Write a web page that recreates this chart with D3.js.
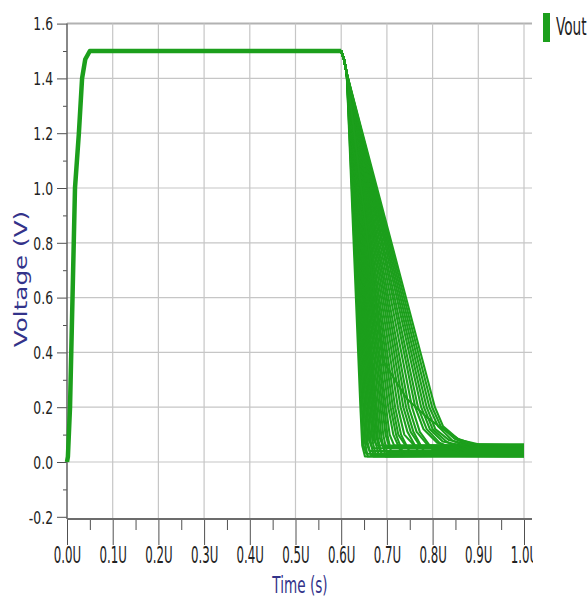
<!DOCTYPE html>
<html>
<meta charset="utf-8">

<head>
    <style>
    body {
        margin: 0;
        background: white;
    }

    .grid line {
        stroke: #c6c6c6;
        stroke-width: 1.2px;
    }

    .curve {
        fill: none;
        stroke: #1c9f1c;
        stroke-width: 2.1px;
        stroke-linejoin: round;
    }

    .head {
        fill: none;
        stroke: #1c9f1c;
        stroke-width: 4.5px;
        stroke-linejoin: round;
    }

    .tick line {
        stroke: #505050;
    }

    .tick text {
        font-family: "Liberation Sans Narrow", "DejaVu Sans Condensed", sans-serif;
        font-size: 16px;
        fill: #222;
    }

    .axis_title {
        font-family: "DejaVu Sans", sans-serif;
        font-size: 17px;
        fill: #33338a;
    }
    </style>
</head>

<body>
    <div id='viz'></div>

<script src="https://d3js.org/d3.v7.min.js"></script>
<script>
const width = 588;
const height = 600;

// ticks
const y_ticks = [-0.2, 0.0, 0.2, 0.4, 0.6, 0.8, 1.0, 1.2, 1.4, 1.6];
const y_minor = [-0.1, 0.1, 0.3, 0.5, 0.7, 0.9, 1.1, 1.3, 1.5];
const x_ticks = [0.0, 0.1, 0.2, 0.3, 0.4, 0.5, 0.6, 0.7, 0.8, 0.9, 1.0];
const x_minor = [0.05, 0.15, 0.25, 0.35, 0.45, 0.55, 0.65, 0.75, 0.85, 0.95];

// rise + plateau, shared by all runs (time in U, volts)
const head_t = [0.0, 0.002, 0.0066, 0.0175, 0.026, 0.033, 0.04, 0.05, 0.6];
const head_v = [0.0, 0.02, 0.2, 1.0, 1.2, 1.4, 1.47, 1.5, 1.5];

// start of the falling edge, shared
const knee = [[0.6, 1.5], [0.606, 1.47], [0.612, 1.42]];

// falling edge of each run
const runs = [
    [[0.642, 0.2], [0.646, 0.06], [0.652, 0.02], [1.0, 0.02]],
    [[0.645, 0.2], [0.649, 0.06], [0.655, 0.03], [1.0, 0.03]],
    [[0.648, 0.2], [0.652, 0.07], [0.658, 0.02], [1.0, 0.025]],
    [[0.651, 0.2], [0.655, 0.07], [0.662, 0.04], [1.0, 0.04]],
    [[0.654, 0.2], [0.658, 0.07], [0.665, 0.025], [1.0, 0.025]],
    [[0.657, 0.2], [0.661, 0.08], [0.668, 0.05], [1.0, 0.05]],
    [[0.660, 0.2], [0.664, 0.08], [0.671, 0.02], [1.0, 0.02]],
    [[0.663, 0.2], [0.668, 0.08], [0.675, 0.03], [1.0, 0.035]],
    [[0.666, 0.2], [0.671, 0.08], [0.678, 0.06], [1.0, 0.06]],
    [[0.669, 0.2], [0.674, 0.08], [0.682, 0.025], [1.0, 0.02]],
    [[0.672, 0.2], [0.677, 0.09], [0.685, 0.04], [1.0, 0.045]],
    [[0.675, 0.2], [0.680, 0.09], [0.688, 0.03], [1.0, 0.03]],
    [[0.678, 0.2], [0.684, 0.09], [0.692, 0.055], [1.0, 0.055]],
    [[0.682, 0.2], [0.688, 0.09], [0.697, 0.02], [1.0, 0.025]],
    [[0.686, 0.2], [0.692, 0.1], [0.700, 0.035], [1.0, 0.035]],
    [[0.690, 0.2], [0.697, 0.1], [0.706, 0.05], [1.0, 0.05]],
    [[0.694, 0.2], [0.701, 0.1], [0.710, 0.03], [1.0, 0.03]],
    [[0.698, 0.2], [0.706, 0.1], [0.716, 0.06], [1.0, 0.06]],
    [[0.703, 0.2], [0.714, 0.1], [0.730, 0.04], [1.0, 0.04]],
    [[0.708, 0.2], [0.720, 0.1], [0.737, 0.025], [1.0, 0.025]],
    [[0.713, 0.2], [0.725, 0.1], [0.745, 0.05], [1.0, 0.055]],
    [[0.718, 0.2], [0.731, 0.1], [0.752, 0.03], [1.0, 0.03]],
    [[0.724, 0.2], [0.738, 0.1], [0.760, 0.06], [1.0, 0.06]],
    [[0.730, 0.2], [0.745, 0.11], [0.768, 0.04], [1.0, 0.04]],
    [[0.736, 0.2], [0.752, 0.11], [0.776, 0.05], [1.0, 0.05]],
    [[0.742, 0.2], [0.758, 0.11], [0.784, 0.03], [1.0, 0.03]],
    [[0.748, 0.2], [0.765, 0.11], [0.790, 0.06], [1.0, 0.06]],
    [[0.755, 0.2], [0.772, 0.11], [0.800, 0.045], [1.0, 0.045]],
    [[0.762, 0.2], [0.780, 0.12], [0.810, 0.07], [0.850, 0.05], [1.0, 0.05]],
    [[0.768, 0.2], [0.787, 0.12], [0.815, 0.07], [0.860, 0.035], [1.0, 0.035]],
    [[0.775, 0.2], [0.794, 0.12], [0.822, 0.075], [0.865, 0.06], [1.0, 0.06]],
    [[0.781, 0.2], [0.800, 0.12], [0.830, 0.075], [0.870, 0.04], [1.0, 0.04]],
    [[0.787, 0.2], [0.806, 0.12], [0.836, 0.08], [0.875, 0.065], [1.0, 0.065]],
    [[0.793, 0.2], [0.812, 0.13], [0.842, 0.08], [0.880, 0.05], [1.0, 0.05]],
    [[0.799, 0.2], [0.818, 0.13], [0.848, 0.085], [0.885, 0.06], [1.0, 0.06]],
    [[0.805, 0.2], [0.823, 0.13], [0.855, 0.085], [0.890, 0.065], [1.0, 0.055]],
    [[0.691, 0.37], [0.744, 0.23], [0.790, 0.16], [0.823, 0.12], [0.860, 0.08], [0.900, 0.065], [1.0, 0.06]]
];

const series_name = "Vout";

const plot_left = 67;
const plot_right = 532;
const x = d3.scaleLinear().domain([0, 1.0]).range([67, 524]);
const y = d3.scaleLinear().domain([-0.2, 1.6]).range([516.8, 23.6]);
const axis_y = 519;

// plain hyphen instead of the unicode minus d3 uses
const fmt1 = d => d3.format(".1f")(d).replace("\u2212", "-");

const svg = d3.select("#viz")
    .append("svg")
    .attr("width", width)
    .attr("height", height);

const line = d3.line()
    .x(d => x(d[0]))
    .y(d => y(d[1]));

// grid
const grid = svg.append("g").attr("class", "grid");

grid.selectAll(".hgrid")
    .data(y_ticks.filter(d => d > -0.2))
    .enter()
    .append("line")
    .attr("x1", plot_left)
    .attr("x2", plot_right)
    .attr("y1", d => y(d))
    .attr("y2", d => y(d))
    .style("stroke", d => d == 1.6 ? "#b2b2b2" : null)
    .style("stroke-width", d => d == 1.6 ? "2px" : null);

grid.selectAll(".vgrid")
    .data(x_ticks.filter(d => d > 0))
    .enter()
    .append("line")
    .attr("x1", d => x(d))
    .attr("x2", d => x(d))
    .attr("y1", y(1.6))
    .attr("y2", axis_y);

// y axis
const y_axis = svg.append("g")
    .attr("transform", "translate(" + plot_left + ",0)")
    .call(d3.axisLeft(y).tickValues(y_ticks).tickSize(10).tickFormat(fmt1));

y_axis.select(".domain").remove();
y_axis.selectAll(".tick text")
    .attr("x", null)
    .attr("dy", "0.36em")
    .attr("transform", "translate(-14,0) scale(0.86,1.1)");

const y_axis_minor = svg.append("g")
    .attr("transform", "translate(" + plot_left + ",0)")
    .call(d3.axisLeft(y).tickValues(y_minor).tickSize(4).tickFormat(""));
y_axis_minor.select(".domain").remove();

svg.append("line")
    .attr("x1", plot_left)
    .attr("x2", plot_left)
    .attr("y1", y(1.6))
    .attr("y2", axis_y)
    .attr("stroke", "#606060")
    .attr("stroke-width", 1.5);

// x axis
svg.append("clipPath")
    .attr("id", "xclip")
    .append("rect")
    .attr("x", 0)
    .attr("y", -10)
    .attr("width", plot_right + 1)
    .attr("height", 100);

const x_axis = svg.append("g")
    .attr("transform", "translate(0," + axis_y + ")")
    .attr("clip-path", "url(#xclip)")
    .call(d3.axisBottom(x).tickValues(x_ticks).tickSize(26).tickFormat(d => fmt1(d) + "U"));

x_axis.select(".domain").remove();
x_axis.selectAll(".tick text")
    .attr("y", null)
    .attr("dy", null)
    .attr("transform", "translate(0,44) scale(0.82,1.4)");

const x_axis_minor = svg.append("g")
    .attr("transform", "translate(0," + axis_y + ")")
    .call(d3.axisBottom(x).tickValues(x_minor).tickSize(11).tickFormat(""));
x_axis_minor.select(".domain").remove();

svg.append("line")
    .attr("x1", plot_left)
    .attr("x2", plot_right)
    .attr("y1", axis_y)
    .attr("y2", axis_y)
    .attr("stroke", "#6c6c6c")
    .attr("stroke-width", 2);

// curves
const head = head_t.map((t, i) => [t, head_v[i]]);

svg.append("path")
    .datum(head)
    .attr("class", "head")
    .attr("d", line);

svg.selectAll(".curve")
    .data(runs)
    .enter()
    .append("path")
    .attr("class", "curve")
    .attr("d", d => line(knee.concat(d)));

// titles
svg.append("text")
    .attr("class", "axis_title")
    .attr("text-anchor", "middle")
    .attr("transform", "translate(300,593) scale(0.8,1.4)")
    .text("Time (s)");

svg.append("text")
    .attr("class", "axis_title")
    .attr("text-anchor", "middle")
    .attr("transform", "translate(27,279) rotate(-90) scale(1.45,1)")
    .text("Voltage (V)");

// legend
svg.append("rect")
    .attr("x", 543)
    .attr("y", 13)
    .attr("width", 7)
    .attr("height", 29)
    .attr("fill", "#1c9f1c");

svg.append("text")
    .attr("transform", "translate(556,35) scale(0.95,1.55)")
    .style("font-family", "'Liberation Sans Narrow', 'DejaVu Sans Condensed', sans-serif")
    .style("font-size", "16px")
    .style("fill", "#222")
    .text(series_name);
</script>
</body>

</html>
